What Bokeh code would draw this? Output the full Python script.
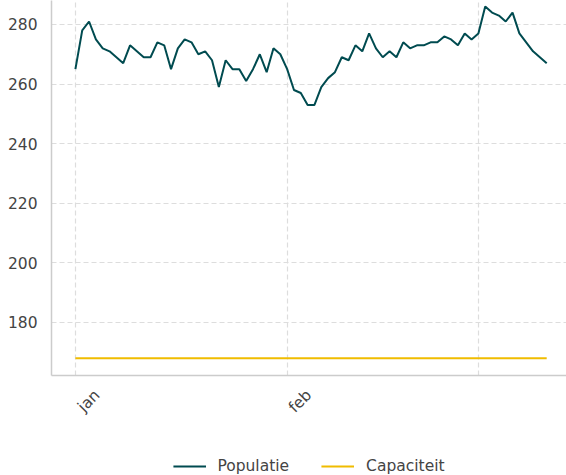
import math
from datetime import datetime, timedelta
from bokeh.plotting import figure
from bokeh.layouts import column
from bokeh.models import (ColumnDataSource, FixedTicker, Range1d, Legend, LegendItem)
from bokeh.embed import file_html
from bokeh.resources import INLINE

# ---- data ----
start_date = "2023-01-01"
populatie = [265, 278, 281, 275, 272, 271, 269, 267, 273, 271,
             269, 269, 274, 273, 265, 272, 275, 274, 270, 271,
             268, 259, 268, 265, 265, 261, 265, 270, 264, 272,
             270, 265, 258, 257, 253, 253, 259, 262, 264, 269,
             268, 273, 271, 277, 272, 269, 271, 269, 274, 272,
             273, 273, 274, 274, 276, 275, 273, 277, 275, 277,
             286, 284, 283, 281, 284, 277, 274, 271, 269, 267]
capaciteit = 168
tick_dates = ["2023-01-01", "2023-02-01"]
tick_labels = ["jan", "feb"]
grid_dates = ["2023-01-01", "2023-02-01", "2023-03-01"]
y_ticks = [180, 200, 220, 240, 260, 280]
series_names = ["Populatie", "Capaciteit"]
series_colors = ["#004b50", "#f0bc00"]

FONT = "DejaVu Sans"
TEXT = "#444444"
FS = "15.5px"
LABEL_SHIFT_DAYS = 3.2   # rotated labels sit to the right of their tick

d0 = datetime.fromisoformat(start_date)
dates = [d0 + timedelta(days=i) for i in range(len(populatie))]

def ms(d):
    return (d - datetime(1970, 1, 1)).total_seconds() * 1000.0

p = figure(width=566, height=457, x_axis_type="datetime",
           output_backend="svg", toolbar_location=None,
           x_range=Range1d(ms(d0 - timedelta(days=3.5)), ms(d0 + timedelta(days=71.9))),
           y_range=Range1d(162.2, 288.05),
           min_border_top=0, min_border_right=0, min_border_left=51,
           min_border_bottom=82)
p.outline_line_color = None
p.background_fill_color = "white"

src = ColumnDataSource(dict(x=dates, y=populatie))
p.line("x", "y", source=src, line_color=series_colors[0], line_width=2)
p.line([dates[0], dates[-1]], [capaciteit, capaciteit],
       line_color=series_colors[1], line_width=2)

# axes
label_ms = [ms(datetime.fromisoformat(t) + timedelta(days=LABEL_SHIFT_DAYS)) for t in tick_dates]
grid_ms = [ms(datetime.fromisoformat(t)) for t in grid_dates]
p.xaxis.ticker = FixedTicker(ticks=label_ms)
p.xaxis.major_label_overrides = {t: l for t, l in zip(label_ms, tick_labels)}
p.xaxis.major_label_orientation = math.pi / 4
p.yaxis.ticker = FixedTicker(ticks=y_ticks)
for ax in (p.xaxis[0], p.yaxis[0]):
    ax.axis_line_color = "#cccccc"
    ax.axis_line_width = 1.5
    ax.major_tick_line_color = None
    ax.minor_tick_line_color = None
    ax.major_tick_out = 0
    ax.major_tick_in = 0
    ax.major_label_text_font = FONT
    ax.major_label_text_font_size = FS
    ax.major_label_text_color = TEXT
p.yaxis.major_label_standoff = 14
p.xaxis.major_label_standoff = 17

# grid
for g in (p.xgrid[0], p.ygrid[0]):
    g.grid_line_color = "#dddddd"
    g.grid_line_dash = "5 3"
    g.grid_line_width = 1.2
p.xgrid.ticker = FixedTicker(ticks=grid_ms)
p.ygrid.ticker = FixedTicker(ticks=y_ticks)

# legend figure
lg = figure(width=566, height=18, output_backend="svg", toolbar_location=None,
            x_range=Range1d(0, 1), y_range=Range1d(0, 1),
            min_border_top=0, min_border_bottom=0, min_border_right=0,
            min_border_left=51)
lg.axis.visible = False
lg.grid.visible = False
lg.outline_line_color = None
items = []
for name, col in zip(series_names, series_colors):
    r = lg.line(x=[-2, -1], y=[-2, -2], line_color=col, line_width=2)
    items.append(LegendItem(label=name, renderers=[r]))
legend = Legend(items=items, orientation="horizontal", location="center",
                border_line_color=None, background_fill_alpha=0,
                label_text_font=FONT, label_text_font_size=FS,
                label_text_color=TEXT, glyph_width=33, glyph_height=16,
                label_height=16, spacing=32, label_standoff=12,
                padding=0, margin=0)
lg.add_layout(legend, "center")

layout = column(p, lg, spacing=0)
open("out.html", "w").write(file_html(layout, INLINE))
